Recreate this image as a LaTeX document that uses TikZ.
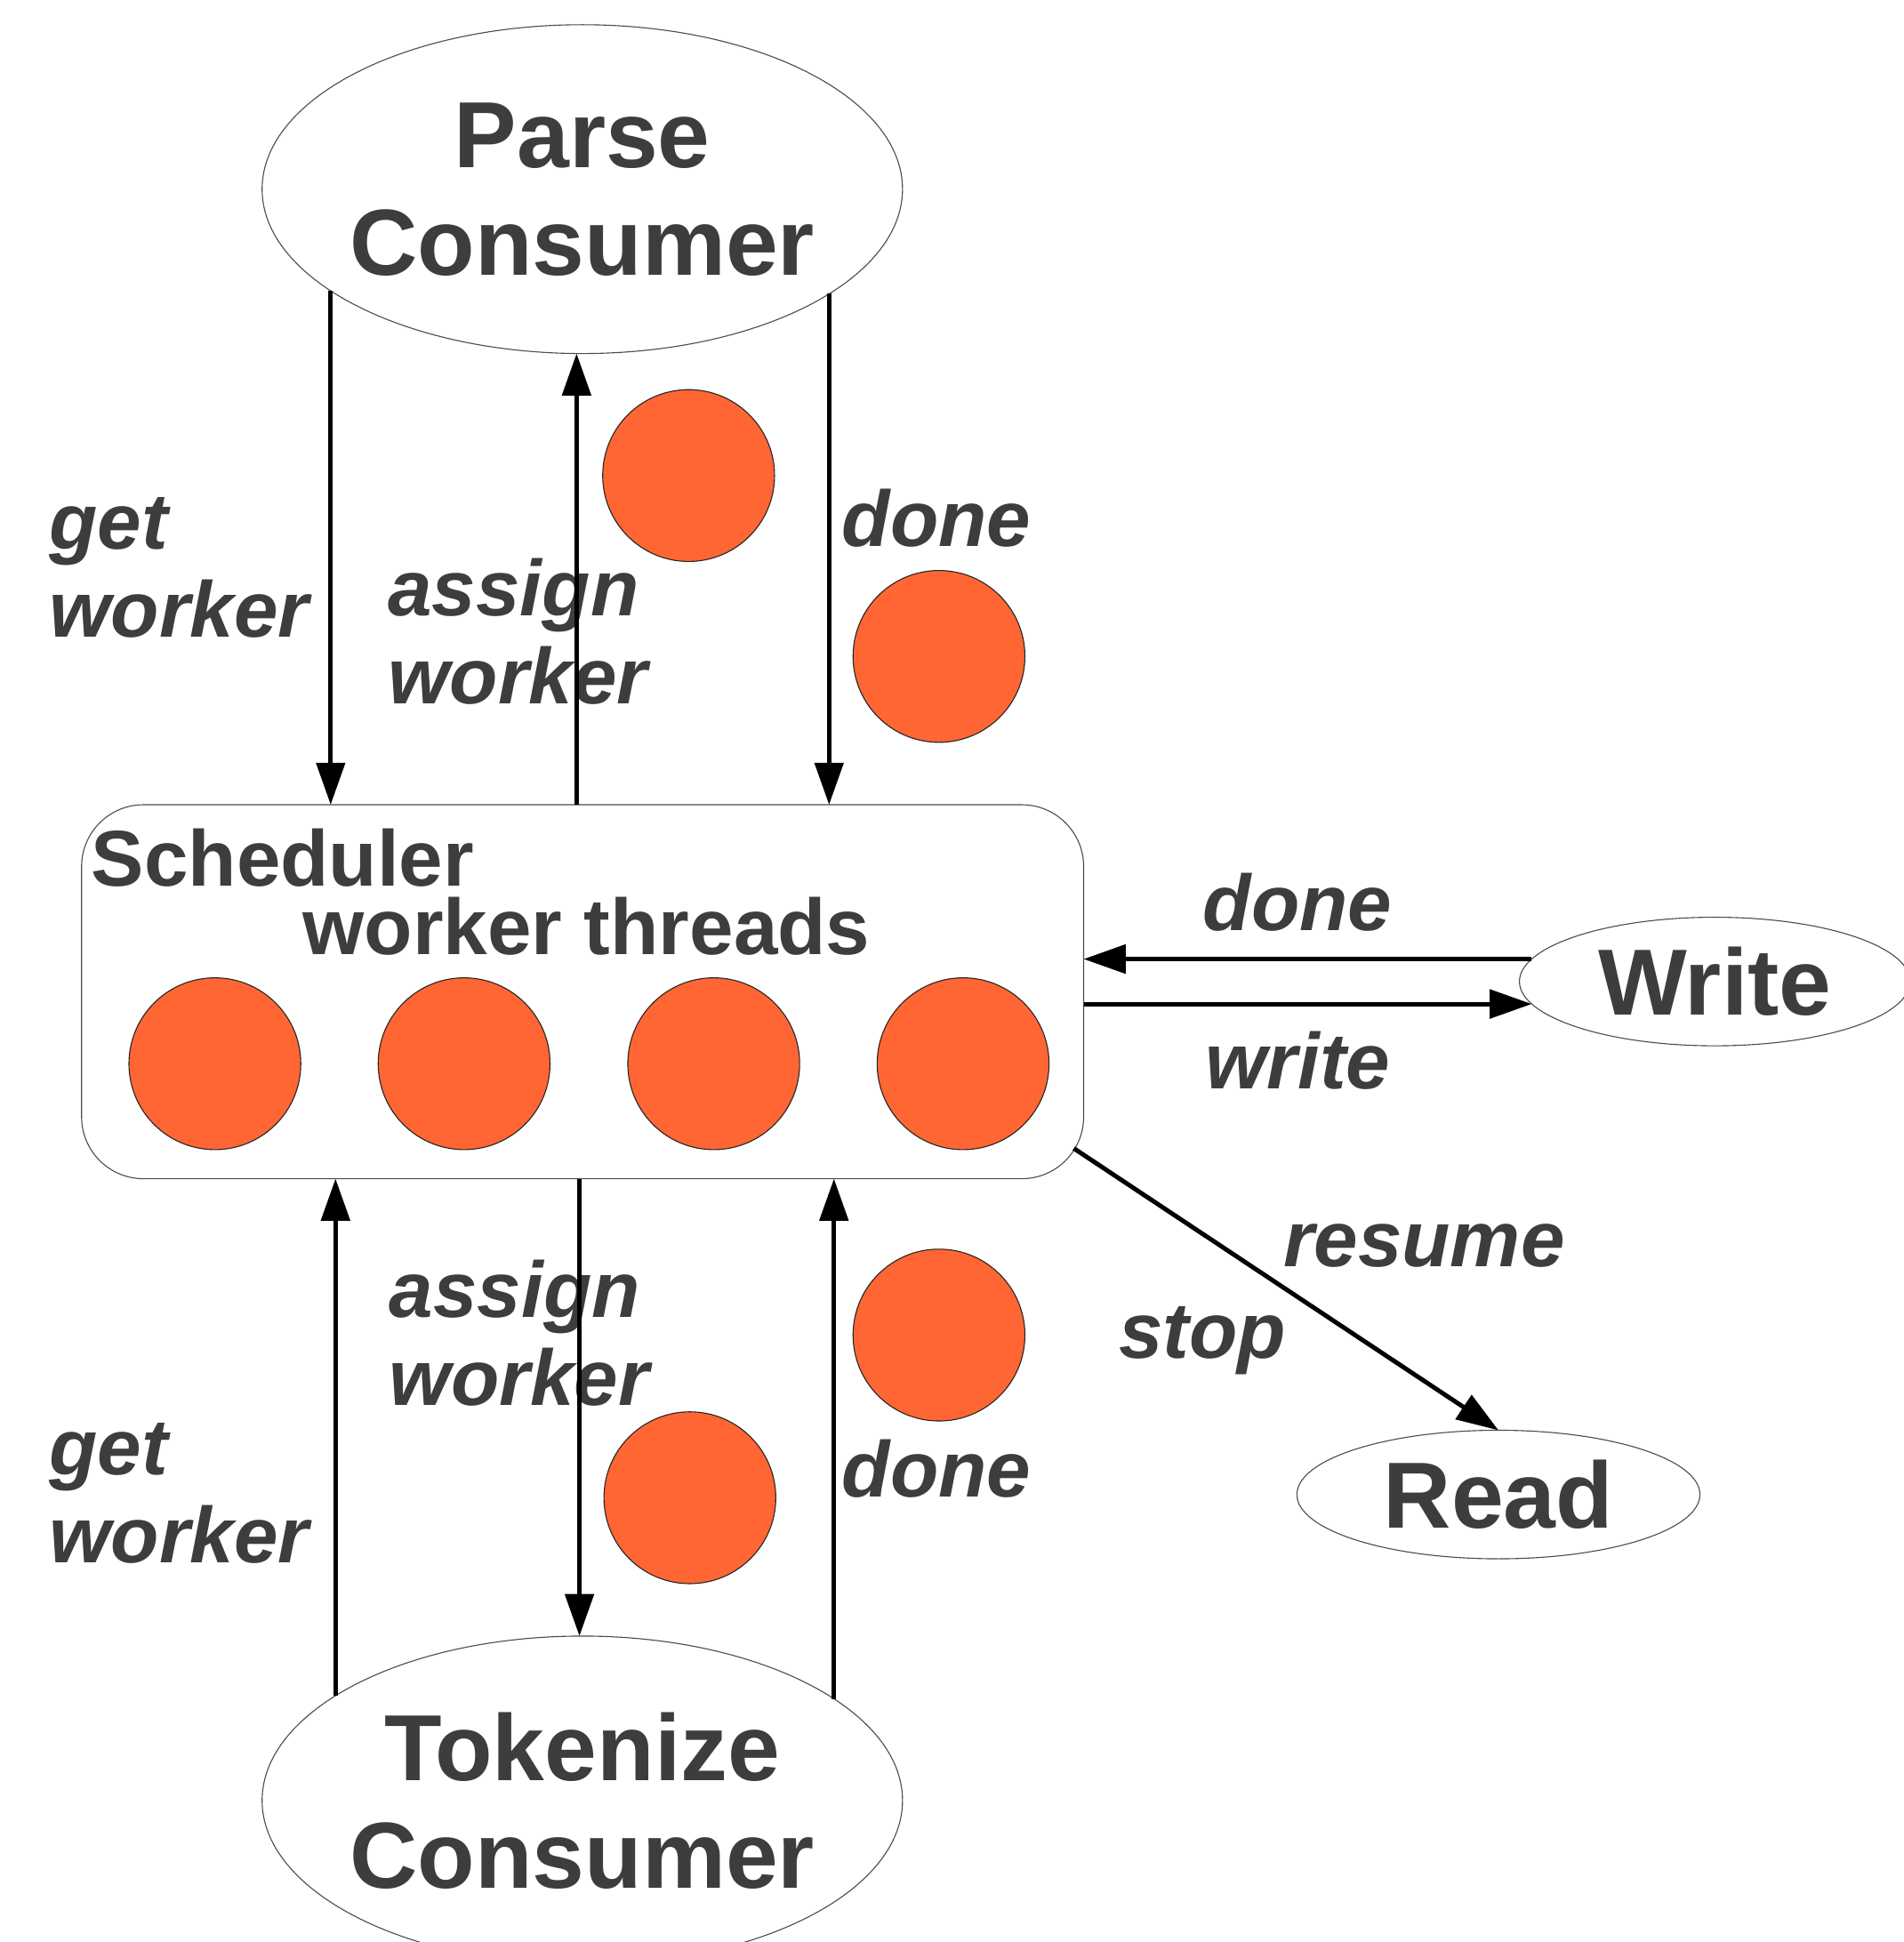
\documentclass[tikz,border=0pt]{standalone}
\usepackage{fontspec}
\setmainfont{Liberation Sans}
\usetikzlibrary{shapes.geometric,arrows.meta,calc}
\definecolor{txtgray}{RGB}{61,61,61}
\definecolor{workerfill}{RGB}{255,102,51}
\begin{document}
\begin{tikzpicture}[x=1pt,y={(0pt,-1pt)},
  every node/.style={inner sep=0pt, outer sep=0pt},
  consumer/.style={ellipse, draw=black!70, line width=0.8pt, minimum width=518pt, minimum height=266pt,
    inner xsep=-6pt, text=txtgray, font=\fontsize{76}{87}\selectfont\bfseries, align=center},
  io/.style={ellipse, draw=black!70, line width=0.8pt, minimum width=316pt, minimum height=104pt,
    text=txtgray, font=\fontsize{76}{87}\selectfont\bfseries},
  lbl/.style={text=txtgray, font=\fontsize{64}{71.5}\selectfont\bfseries\itshape, align=left, anchor=base west},
  head/.style={text=txtgray, font=\fontsize{64}{70}\selectfont\bfseries, anchor=base west},
  thread/.style={circle, draw=black!85, line width=0.8pt, fill=workerfill, minimum size=139pt},
  flow/.style={line width=3.6pt, -{Triangle[length=34pt,width=23pt]}},
  schedbox/.style={rectangle, rounded corners=50pt, draw=black!70, line width=0.8pt,
    minimum width=810.5pt, minimum height=302.5pt}
]
\useasboundingbox (0,0) rectangle (1540,1571);
\clip (0,0) rectangle (1540,1571);

% main nodes
\node[consumer] (parse) at (471,153) {Parse\\Consumer};
\node[schedbox] (sched) at (471.25,802.25) {};
\node[head] (schedtitle) at (74,717) {Scheduler};
\node[head] (threadstitle) at (245,772.5) {worker threads};
\foreach \i/\x in {1/173.8, 2/375.4, 3/577.3, 4/779}
  \node[thread] (w\i) at (\x,860.5) {};
\node[consumer] (tok) at (471,1456.5) {Tokenize\\Consumer};
\node[io] (write) at (1387,794) {Write};
\node[io, minimum width=326pt] (read) at (1212,1209) {Read};

% workers in transit
\node[thread] (t1) at (557,384.7) {};
\node[thread] (t2) at (759.5,531) {};
\node[thread] (t3) at (759.5,1080) {};
\node[thread] (t4) at (558,1211.6) {};

% labels (base = baseline of the last line)
\node[lbl] (getup) at (40,515.5) {get\\worker};
\node[lbl] (assignup) at (314,569.5) {assign\\worker};
\node[lbl] (doneup) at (681,442) {done};
\node[lbl] (donewrite) at (973,753) {done};
\node[lbl] (writelbl) at (975,881) {write};
\node[lbl] (resumelbl) at (1038,1025) {resume};
\node[lbl] (stoplbl) at (905,1099) {stop};
\node[lbl] (assigndown) at (315,1137) {assign\\worker};
\node[lbl] (getdown) at (40,1264.5) {get\\worker};
\node[lbl] (donedown) at (681,1211) {done};

% connectors
\draw[flow] (parse.202.8) -- (parse.202.8 |- sched.north);
\draw[flow] (parse.268.7 |- sched.north) -- (parse.268.7);
\draw[flow] (parse.337.9) -- (parse.337.9 |- sched.north);
\draw[flow] (tok.157.2) -- (tok.157.2 |- sched.south);
\draw[flow] (tok.91.3 |- sched.south) -- (tok.91.3);
\draw[flow] (tok.22.1) -- (tok.22.1 |- sched.south);
\draw[flow] (write.173.5) -- (sched.east |- write.173.5);
\draw[flow] (sched.east |- write.187.4) -- (write.187.4);
\draw[flow] ($(sched.south east)+(-7.9,-24.5)$) -- (read.north);
\end{tikzpicture}
\end{document}
